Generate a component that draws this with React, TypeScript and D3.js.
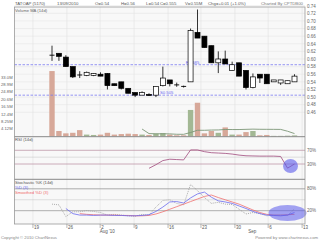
import React from 'react';
import * as d3 from 'd3';

// ---- data ----
const openP = [0.61,0.615,0.605,0.58,0.558,0.557,0.557,0.56,0.562,0.535,0.54,0.523,0.512,0.505,0.507,0.505,0.53,0.545,0.532,0.528,0.54,0.67,0.66,0.635,0.59,0.6,0.57,0.59,0.57,0.525,0.56,0.56,0.54,0.537,0.535,0.54];
const highP = [0.635,0.615,0.61,0.58,0.568,0.567,0.563,0.565,0.563,0.535,0.54,0.523,0.512,0.515,0.51,0.528,0.58,0.545,0.538,0.53,0.68,0.73,0.66,0.635,0.62,0.622,0.593,0.59,0.57,0.562,0.56,0.56,0.545,0.545,0.543,0.56];
const lowP = [0.595,0.595,0.58,0.55,0.55,0.555,0.555,0.555,0.52,0.53,0.52,0.51,0.5,0.505,0.503,0.5,0.528,0.528,0.527,0.525,0.54,0.655,0.63,0.59,0.563,0.587,0.57,0.555,0.52,0.523,0.537,0.535,0.54,0.532,0.535,0.54];
const closeP = [0.61,0.607,0.58,0.553,0.558,0.565,0.562,0.555,0.53,0.53,0.523,0.51,0.505,0.512,0.505,0.528,0.55,0.535,0.532,0.528,0.675,0.655,0.63,0.59,0.6,0.587,0.585,0.555,0.525,0.553,0.55,0.535,0.545,0.545,0.543,0.555];
const volumeM = [36.3,3.0,1.7,2.0,3.5,1.0,0.8,1.0,2.0,1.0,1.3,1.5,1.3,1.0,0.8,1.5,1.8,1.0,0.6,0.6,14.7,18.7,1.7,3.0,2.0,5.0,1.0,1.0,2.4,3.0,0.6,0.8,0.3,0.3,0.4,0.55];
const rsi14: (number | null)[] = [null,null,null,null,null,null,null,null,null,null,null,null,null,null,17.5,28,40,44,43,42,71,71,66,63,62,61,59,56,54,53.5,53,53,53,52,18,30];
const stochK: (number | null)[] = [38,36,4,17,17,20,18,15,8,10,8,6,5,10,8,30,48,50,40,36,92,75,56,40,43,38,37,24,11,15,12,6,8,8,7,25];
const stochD: (number | null)[] = [null,null,26,12,8,8,7,8,8,7,7,6,6,7,9,18,30,44,45,41,55,66,71,57,47,44,40,33,26,18,12,8,7,6,8,15];
const stochSD: (number | null)[] = [null,null,null,null,12,10,9,8,8,8,7,7,6,6,7,11,17,24,31,38,45,52,59,63,56,50,44,38,30,22,15,10,8,8,9,10];

const priceTicks = [0.46,0.48,0.5,0.52,0.54,0.56,0.58,0.6,0.62,0.64,0.66,0.68,0.7,0.72,0.74];
const volTicks = [4.125,8.25,12.375,16.5,20.625,24.75,28.875,33.0];
const volTickLabels = ['4.12M','8.25M','12.4M','16.5M','20.6M','24.8M','28.9M','33.0M'];
const dateTickPos = [-2.75,2.15,6.95,11.85,16.75,21.5,26.4,31.2,36.1];
const dateTickLabels = ['19','26','2','9','16','23','30','6','13'];
const monthLabels = ["Aug '10", 'Sep'];
const monthPos = [6.95, 28.4];
const supportLevels = [0.585, 0.505];
const supportLabels = ['R0.585', 'S0.505'];
const supportLabelIdx = [19.3, 15.6];
const headerTexts = ['TATOAP (5170)','13/09/2010','O=0.54','H=0.56','L=0.54','C=0.555','V=0.55M','Chg=+0.01 (+1.0%)'];
const headerX = [15,57,95,121,146,160,185,208];
const chartedBy = 'Charted By CPTDB00';

const L = 14.5, R = 305;
const PT = 7, PB = 136.7, RT = 136.7, RB = 179.3, ST = 179.3, SB = 224;
const FONT = 'Liberation Sans, Arial, sans-serif';

export default function App() {
  const n = closeP.length;
  const x = d3.scaleLinear().domain([0, n - 1]).range([52, 294.5]);
  const yP = d3.scaleLinear().domain([0.46, 0.74]).range([112.3, 5.7]);
  const yV = d3.scaleLinear().domain([0, 33]).range([136.4, 77]);
  const yR = d3.scaleLinear().domain([0, 100]).range([174.3, 140]);
  const yS = d3.scaleLinear().domain([0, 100]).range([218, 181.5]);

  const volMA: (number | null)[] = volumeM.map((_, i) =>
    i < 13 ? null : (d3.mean(volumeM.slice(i - 13, i + 1)) as number));

  const mkLine = (ys: d3.ScaleLinear<number, number>) =>
    d3.line<number | null>()
      .defined(d => d != null)
      .x((_, i) => x(i))
      .y(d => ys(d as number));

  const bw = 5;
  const fs = 4.5;

  return (
    <div style={{ position: 'absolute', left: 0, top: 0 }}>
      <svg width={320} height={240} style={{ display: 'block', fontFamily: FONT }}>
        <rect x={0} y={0} width={320} height={240} fill="#fff" />
        {/* panels */}
        <rect x={L} y={PT} width={R - L} height={PB - PT} fill="#f8f8f8" />
        <rect x={L} y={RT} width={R - L} height={RB - RT} fill="#f8f8f8" />
        <rect x={L} y={ST} width={R - L} height={SB - ST} fill="#f8f8f8" />
        {/* price grid */}
        {priceTicks.map((p, i) => (
          <line key={'pg' + i} x1={L} x2={R} y1={yP(p)} y2={yP(p)} stroke="#e6e6e6" strokeWidth={0.6} />
        ))}
        {/* vertical grid */}
        {dateTickPos.map((d, i) => (
          <line key={'vg' + i} x1={x(d)} x2={x(d)} y1={PT} y2={SB} stroke="#e0e0e0" strokeWidth={0.6} />
        ))}
        {/* header */}
        {headerTexts.map((t, i) => (
          <text key={'h' + i} x={headerX[i]} y={5.2} fontSize={fs - 0.2} fill="#555">{t}</text>
        ))}
        <text x={303} y={5.2} fontSize={fs - 0.2} fill="#777" textAnchor="end">{chartedBy}</text>
        <text x={15} y={11.5} fontSize={fs - 0.3} fill="#666">Volume MA (14d)</text>
        {/* price axis labels */}
        {priceTicks.map((p, i) => (
          <text key={'pl' + i} x={307} y={yP(p) + 1.8} fontSize={fs} fill="#666">{p.toFixed(2)}</text>
        ))}
        {/* volume axis labels */}
        {volTicks.map((v, i) => (
          <text key={'vl' + i} x={1} y={yV(v) + 1.5} fontSize={fs - 0.3} fill="#666">{volTickLabels[i]}</text>
        ))}
        {/* volume bars */}
        {volumeM.map((v, i) => (
          <rect key={'vb' + i} x={x(i) - 2.7} y={yV(v)} width={5.4} height={yV(0) - yV(v)}
            fill={closeP[i] > openP[i] ? '#a3b894' : '#d7a899'} />
        ))}
        <path d={mkLine(yV)(volMA) || ''} fill="none" stroke="#7d9677" strokeWidth={0.9} />
        {/* support / resistance */}
        {supportLevels.map((s, i) => (
          <g key={'sr' + i}>
            <line x1={L} x2={R} y1={yP(s)} y2={yP(s)} stroke="#7a7af0" strokeWidth={0.8} strokeDasharray="2.5,1.5" />
            <text x={x(supportLabelIdx[i])} y={yP(s) - 1.2} fontSize={fs - 0.3} fill="#6a6af0">{supportLabels[i]}</text>
          </g>
        ))}
        {/* candles */}
        {closeP.map((c, i) => {
          const o = openP[i];
          const top = yP(Math.max(o, c));
          const bot = yP(Math.min(o, c));
          const up = c > o;
          return (
            <g key={'c' + i}>
              <line x1={x(i)} x2={x(i)} y1={yP(highP[i])} y2={yP(lowP[i])} stroke="#000" strokeWidth={0.8} />
              {o === c ? (
                <line x1={x(i) - bw / 2} x2={x(i) + bw / 2} y1={top} y2={top} stroke="#000" strokeWidth={0.9} />
              ) : (
                <rect x={x(i) - bw / 2} y={top} width={bw} height={Math.max(bot - top, 1)}
                  fill={up ? '#fff' : '#000'} stroke="#000" strokeWidth={0.7} />
              )}
            </g>
          );
        })}
        {/* RSI panel */}
        <text x={15} y={141} fontSize={fs - 0.3} fill="#555">RSI (14d)</text>
        <line x1={L} x2={R} y1={yR(70)} y2={yR(70)} stroke="#bf98a8" strokeWidth={0.8} />
        <line x1={L} x2={R} y1={yR(30)} y2={yR(30)} stroke="#bf98a8" strokeWidth={0.8} />
        <line x1={L} x2={R} y1={yR(50)} y2={yR(50)} stroke="#aaa" strokeWidth={0.7} strokeDasharray="1,1" />
        <text x={307} y={yR(70) + 1.5} fontSize={fs} fill="#666">70%</text>
        <text x={307} y={yR(30) + 1.5} fontSize={fs} fill="#666">30%</text>
        <path d={mkLine(yR)(rsi14) || ''} fill="none" stroke="#a04a7c" strokeWidth={0.8} />
        <ellipse cx={290.5} cy={166} rx={7.5} ry={7} fill="rgba(90,90,235,0.6)" />
        {/* Stochastic panel */}
        <line x1={L} x2={R} y1={yS(80)} y2={yS(80)} stroke="#999" strokeWidth={0.8} />
        <line x1={L} x2={R} y1={yS(20)} y2={yS(20)} stroke="#999" strokeWidth={0.8} />
        <line x1={L} x2={R} y1={yS(50)} y2={yS(50)} stroke="#aaa" strokeWidth={0.7} strokeDasharray="1,1" />
        <text x={307} y={yS(80) + 1.5} fontSize={fs} fill="#666">80%</text>
        <text x={307} y={yS(20) + 1.5} fontSize={fs} fill="#666">20%</text>
        <text x={15} y={184.2} fontSize={fs - 0.3} fill="#555">Stochastic %K (14d)</text>
        <text x={15} y={189} fontSize={fs - 0.3} fill="#6a6af0">%D (3)</text>
        <text x={15} y={193.8} fontSize={fs - 0.3} fill="#f06a6a">Smoothed %D (3)</text>
        <path d={mkLine(yS)(stochK) || ''} fill="none" stroke="#999" strokeWidth={0.8} strokeDasharray="1,1" />
        <path d={mkLine(yS)(stochSD) || ''} fill="none" stroke="#f07070" strokeWidth={0.8} />
        <path d={mkLine(yS)(stochD) || ''} fill="none" stroke="#6b6bf0" strokeWidth={0.8} />
        <ellipse cx={287.5} cy={213} rx={19} ry={8} fill="rgba(90,90,235,0.55)" />
        {/* borders */}
        <rect x={L} y={PT} width={R - L} height={SB - PT} fill="none" stroke="#999" strokeWidth={0.8} />
        <line x1={L} x2={R} y1={RT} y2={RT} stroke="#888" strokeWidth={1} />
        <line x1={L} x2={R} y1={ST} y2={ST} stroke="#888" strokeWidth={1} />
        {/* x axis */}
        {dateTickPos.map((d, i) => (
          <g key={'xt' + i}>
            <line x1={x(d)} x2={x(d)} y1={SB} y2={SB + 4} stroke="#888" strokeWidth={0.6} />
            <text x={x(d) + 1} y={228.6} fontSize={fs} fill="#555">{dateTickLabels[i]}</text>
          </g>
        ))}
        {monthLabels.map((m, i) => (
          <text key={'m' + i} x={x(monthPos[i]) - 0.5} y={233} fontSize={fs} fill="#555">{m}</text>
        ))}
        <text x={1} y={238.8} fontSize={fs - 0.3} fill="#888">Copyright © 2010 ChartNexus</text>
        <text x={318} y={238.8} fontSize={fs - 0.3} fill="#888" textAnchor="end">Powered by www.chartnexus.com</text>
      </svg>
    </div>
  );
}
